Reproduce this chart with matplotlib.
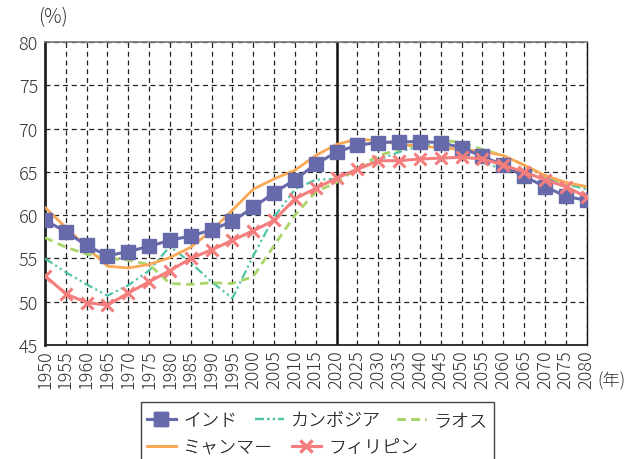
import numpy as np
import matplotlib
matplotlib.use("Agg")
import matplotlib.pyplot as plt
from matplotlib.patches import Rectangle

plt.rcParams['font.family'] = ['Noto Sans CJK JP', 'DejaVu Sans']
plt.rcParams['font.weight'] = 'light'

years = list(range(1950, 2081, 5))

india = [59.4, 58.1, 56.5, 55.3, 55.8, 56.4, 57.1, 57.6, 58.3, 59.3, 60.9, 62.6,
         64.1, 65.9, 67.3, 68.1, 68.4, 68.5, 68.5, 68.4, 67.8, 66.8, 65.8, 64.5,
         63.3, 62.2, 61.7]
cambodia = [55.0, 53.4, 52.0, 50.7, 51.9, 53.6, 56.4, 54.5, 52.3, 50.4, 55.3, 59.8,
            63.0, 64.1, 64.2, 65.4, 66.4, 67.3, 68.0, 68.3, 67.2, 66.1, 65.3, 64.9,
            64.3, 63.6, 63.0]
laos = [57.4, 56.3, 55.5, 55.0, 54.8, 54.3, 52.1, 52.0, 52.2, 52.1, 52.9, 56.5,
        60.0, 62.7, 63.8, 65.4, 66.9, 67.6, 68.4, 68.7, 68.4, 67.6, 66.9, 65.8,
        64.5, 63.7, 63.3]
myanmar = [60.9, 58.6, 56.3, 54.1, 53.9, 54.3, 55.1, 56.3, 58.2, 60.6, 63.0, 64.2,
           65.2, 66.9, 68.2, 68.8, 68.6, 68.2, 68.0, 67.8, 67.6, 67.4, 66.9, 65.8,
           64.6, 63.8, 63.3]
philippines = [53.0, 50.9, 49.9, 49.6, 51.0, 52.3, 53.6, 55.0, 56.0, 57.1, 58.2, 59.4,
               61.9, 63.1, 64.3, 65.3, 66.3, 66.3, 66.5, 66.6, 66.7, 66.5, 65.8, 65.0,
               64.1, 63.3, 62.1]

W, H = 629, 460
fig = plt.figure(figsize=(W / 100, H / 100), dpi=100)
ax = fig.add_axes([0.0715, 0.248, 0.861, 0.658])

ax.set_xlim(1950, 2080)
ax.set_ylim(45, 80)
ax.set_xticks(years)
ax.set_yticks(range(45, 81, 5))
ax.grid(True, color='#222222', linestyle=(0, (4, 3)), linewidth=0.9)
ax.set_axisbelow(True)
ax.axvline(2020, color='#111111', linewidth=1.8, zorder=2)

l_ind, = ax.plot(years, india, color='#6669aa', linewidth=2.2, marker='s',
                 markersize=9.5, zorder=5)
l_cam, = ax.plot(years, cambodia, color='#4ec3a6', linewidth=1.6,
                 linestyle=(0, (4, 1.5, 1, 1.5, 1, 1.5)), zorder=3)
l_lao, = ax.plot(years, laos, color='#a8d468', linewidth=2.0,
                 linestyle=(0, (3, 2)), zorder=3)
l_mya, = ax.plot(years, myanmar, color='#f9a857', linewidth=2.0, zorder=4)
l_phi, = ax.plot(years, philippines, color='#f47e7e', linewidth=2.2, marker='x',
                 markersize=9, markeredgewidth=2.2, zorder=6)

ax.spines['left'].set_linewidth(2.0)
ax.spines['left'].set_color('#222222')
ax.spines['bottom'].set_linewidth(1.3)
ax.spines['bottom'].set_color('#222222')
ax.spines['top'].set_color('#777777')
ax.spines['top'].set_linewidth(1.2)
ax.spines['right'].set_color('#111111')
ax.spines['right'].set_linewidth(1.0)

ax.tick_params(axis='both', length=0, labelsize=13, colors='#333333')
ax.tick_params(axis='y', pad=5)
ax.tick_params(axis='x', pad=3)
for lb in ax.get_xticklabels():
    lb.set_rotation(90)
    lb.set_va('top')
    lb.set_ha('center')

fig.text(0.060, 0.962, '(%)', fontsize=14, color='#333333', ha='left', va='center')
fig.text(0.950, 0.170, '(年)', fontsize=12.5, color='#333333', ha='left', va='center')

# legend: one small legend per entry so rows keep their own spacing
entries = [(l_ind, 'インド', 147, 421),
           (l_cam, 'カンボジア', 255, 421),
           (l_lao, 'ラオス', 397, 421),
           (l_mya, 'ミャンマー', 147, 448),
           (l_phi, 'フィリピン', 292, 448)]
for handle, label, px, py in entries:
    lg = fig.legend([handle], [label], loc='center left',
                    bbox_to_anchor=(px / W, 1 - py / H), frameon=False,
                    fontsize=13, handlelength=1.6, handletextpad=0.4,
                    borderpad=0, borderaxespad=0)
    for t in lg.get_texts():
        t.set_color('#333333')
    fig.add_artist(lg)

fig.patches.append(Rectangle((141 / W, -0.01), (494 - 141) / W, 1 - 403 / H + 0.01,
                             transform=fig.transFigure, fill=False,
                             edgecolor='#444444', linewidth=1.0))

fig.savefig('out.png', dpi=100)
